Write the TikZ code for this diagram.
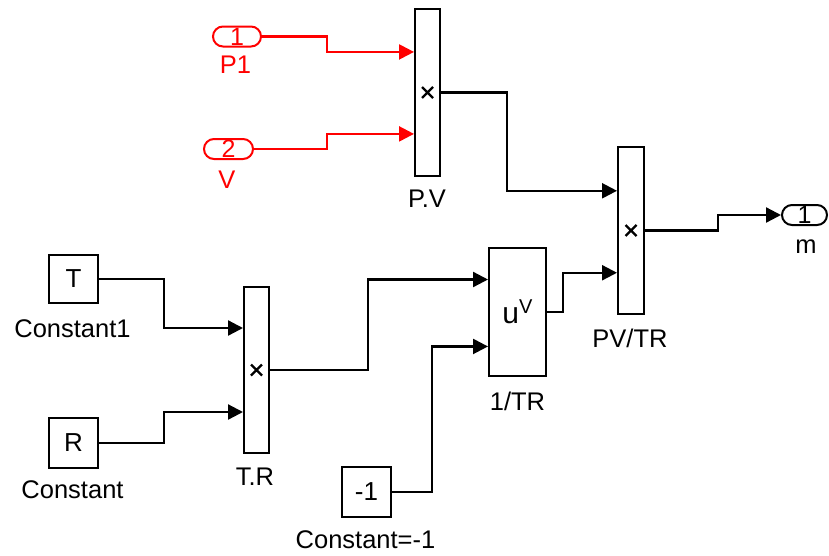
\documentclass[tikz,border=0pt]{standalone}
\usepackage{fontspec}
\setmainfont{Liberation Sans}
\usetikzlibrary{arrows.meta,calc}
\definecolor{sigred}{RGB}{255,0,0}
\begin{document}
\begin{tikzpicture}[x=1pt,y=-1pt,
  blk/.style={draw=black, line width=2pt, fill=white, inner sep=0pt, rectangle},
  bigtxt/.style={font=\fontsize{26}{26}\selectfont},
  port/.style={draw, line width=2pt, rounded corners=10pt, inner sep=0pt, minimum height=20pt, font=\fontsize{25}{25}\selectfont},
  lbl/.style={anchor=base, inner sep=0pt, font=\fontsize{25.5}{25.5}\selectfont},
  sig/.style={line width=2.3pt, -{Triangle[length=15pt,width=15pt]}},
  xmark/.pic={\draw[line width=2.2pt] (-5.5,-5.5) -- (5.5,5.5) (-5.5,5.5) -- (5.5,-5.5);}
]
\path[use as bounding box] (0,0) rectangle (829,555);

% inports
\node[port, draw=sigred, text=sigred, minimum width=48pt] (in1) at (237,36.5) {1};
\node[lbl, text=sigred] (lP1) at (235.5,73) {P1};
\node[port, draw=sigred, text=sigred, minimum width=49pt] (in2) at (228.5,149) {2};
\node[lbl, text=sigred] (lV) at (227,188) {V};

% product blocks
\node[blk, minimum width=25pt, minimum height=167pt] (pv) at (427.5,92.5) {};
\pic at (pv.center) {xmark};
\node[lbl] (lPV) at (427,207) {P.V};

\node[blk, minimum width=26pt, minimum height=167pt] (pvtr) at (631,230.5) {};
\pic at (pvtr.center) {xmark};
\node[lbl] (lPVTR) at (630,347) {PV/TR};

\node[blk, minimum width=25pt, minimum height=166pt] (tr) at (256.5,370) {};
\pic at (tr.center) {xmark};
\node[lbl] (lTR) at (255,485) {T.R};

% math function block
\node[blk, minimum width=57pt, minimum height=128pt] (uv) at (517.5,312) {};
\node[anchor=base, inner sep=0pt, font=\fontsize{30}{30}\selectfont] (uvtxt) at ([yshift=-11pt]uv.center) {u\raisebox{10pt}{\fontsize{20}{20}\selectfont V}};
\node[lbl] (l1TR) at (517.5,410) {1/TR};

% constants
\node[blk, bigtxt, minimum width=49pt, minimum height=48pt] (cT) at (73.5,279) {T};
\node[lbl] (lC1) at (72.5,337) {Constant1};
\node[blk, bigtxt, minimum width=49pt, minimum height=50pt] (cR) at (73.5,443) {R};
\node[lbl] (lC) at (72.5,498) {Constant};
\node[blk, bigtxt, minimum width=49pt, minimum height=50pt] (cm1) at (366.5,492) {-1};
\node[lbl] (lCm1) at (365.5,548) {Constant=-1};

% outport
\node[port, minimum width=45pt] (out) at (804.5,215) {1};
\node[lbl] (lm) at (806,253) {m};

% ports
\coordinate (pvin1) at ($(pv.north west)!0.26!(pv.south west)$);
\coordinate (pvin2) at ($(pv.north west)!0.745!(pv.south west)$);
\coordinate (pvtrin1) at ($(pvtr.north west)!0.265!(pvtr.south west)$);
\coordinate (pvtrin2) at ($(pvtr.north west)!0.75!(pvtr.south west)$);
\coordinate (trin1) at ($(tr.north west)!0.25!(tr.south west)$);
\coordinate (trin2) at ($(tr.north west)!0.75!(tr.south west)$);
\coordinate (uvin1) at ($(uv.north west)!0.25!(uv.south west)$);
\coordinate (uvin2) at ($(uv.north west)!0.765!(uv.south west)$);

% signals
\draw[sig, color=sigred] (in1.east) -- ++(65,0) |- (pvin1);
\draw[sig, color=sigred] (in2.east) -- ++(73,0) |- (pvin2);
\draw[sig] (pv.east) -- ++(66,0) |- (pvtrin1);
\draw[sig] (pvtr.east) -- ++(73,0) |- (out.west);
\draw[sig] (uv.east) -- ++(16,0) |- (pvtrin2);
\draw[sig] (tr.east) -- ++(98,0) |- (uvin1);
\draw[sig] (cm1.east) -- ++(40,0) |- (uvin2);
\draw[sig] (cT.east) -- ++(65,0) |- (trin1);
\draw[sig] (cR.east) -- ++(65,0) |- (trin2);
\end{tikzpicture}
\end{document}
